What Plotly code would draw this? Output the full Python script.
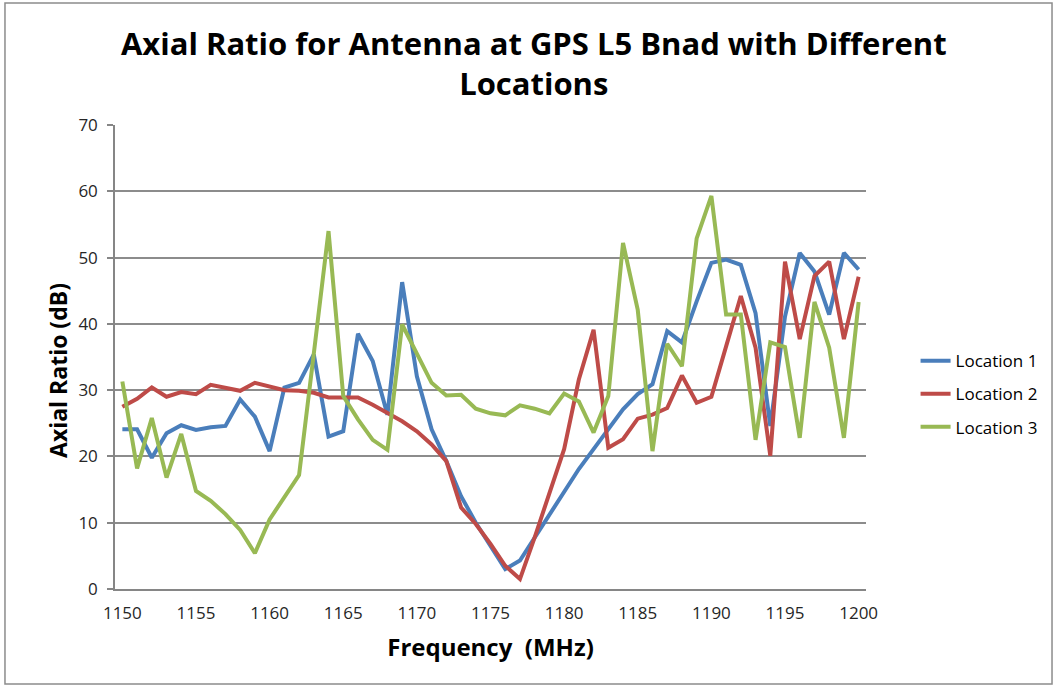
import plotly.graph_objects as go

freq = list(range(1150, 1201))

location1 = [24.1, 24.1, 19.8, 23.5, 24.7, 24.0, 24.4, 24.6, 28.6, 26.0,
             20.8, 30.4, 31.1, 35.4, 23.0, 23.8, 38.5, 34.4, 26.3, 46.3,
             32.1, 24.1, 19.3, 14.0, 10.0, 6.5, 3.0, 4.3, 7.8, 11.3,
             14.8, 18.1, 21.1, 24.1, 27.1, 29.4, 30.9, 38.9, 37.2, 43.4,
             49.2, 49.7, 48.9, 41.6, 24.6, 41.1, 50.7, 47.9, 41.4, 50.7,
             48.2]

location2 = [27.5, 28.7, 30.4, 29.0, 29.7, 29.4, 30.8, 30.4, 29.9, 31.1,
             30.6, 30.0, 29.9, 29.6, 28.9, 28.9, 28.9, 27.8, 26.6, 25.3,
             23.8, 21.8, 19.3, 12.3, 9.8, 6.8, 3.5, 1.5, 7.8, 14.3,
             21.1, 31.6, 39.1, 21.3, 22.6, 25.7, 26.3, 27.3, 32.2, 28.1,
             29.0, 36.6, 44.2, 36.4, 20.1, 49.4, 37.7, 47.2, 49.4, 37.7,
             47.1]

location3 = [31.3, 18.2, 25.8, 16.8, 23.4, 14.8, 13.3, 11.3, 8.9, 5.4,
             10.5, 13.8, 17.2, 35.5, 54.0, 29.1, 25.6, 22.5, 21.0, 39.9,
             35.6, 31.1, 29.2, 29.3, 27.2, 26.5, 26.2, 27.7, 27.2, 26.5,
             29.5, 28.3, 23.6, 29.1, 52.2, 42.1, 20.8, 37.0, 33.6, 52.9,
             59.3, 41.4, 41.4, 22.5, 37.2, 36.5, 22.8, 43.3, 36.4, 22.8,
             43.3]

series_names = ["Location 1", "Location 2", "Location 3"]
series_values = [location1, location2, location3]
series_colors = ["#4A7EBB", "#BE4B48", "#98B954"]

x_ticks = [1150, 1155, 1160, 1165, 1170, 1175, 1180, 1185, 1190, 1195, 1200]
y_ticks = [0, 10, 20, 30, 40, 50, 60, 70]

FONT = "'Open Sans', Lato, sans-serif"

fig = go.Figure()
for i, (name, vals, col) in enumerate(zip(series_names, series_values, series_colors)):
    fig.add_trace(go.Scatter(
        x=freq, y=vals, mode="lines", name=name,
        legendgroup=f"g{i}",
        line=dict(color=col, width=4),
    ))

fig.update_layout(
    width=1057, height=686,
    paper_bgcolor="white", plot_bgcolor="white",
    margin=dict(l=115, r=191, t=125, b=97),
    font=dict(family=FONT, size=17, color="#262626"),
    title=dict(
        text="<b>Axial Ratio for Antenna at GPS L5 Bnad with Different<br>Locations</b>",
        x=0.505, xanchor="center", y=0.92, yanchor="top",
        font=dict(family=FONT, size=31, color="black"),
    ),
    showlegend=True,
    legend=dict(
        x=1.066, xanchor="left", y=0.42, yanchor="middle",
        font=dict(family=FONT, size=17, color="black"),
        tracegroupgap=8,
        bgcolor="rgba(0,0,0,0)",
    ),
    xaxis=dict(
        range=[1149.5, 1200.5],
        tickvals=x_ticks, ticktext=[str(v) for v in x_ticks],
        showgrid=False, zeroline=False,
        showline=True, linecolor="#868686", linewidth=1.5,
        ticks="", ticklabelstandoff=8,
        tickfont=dict(size=17, color="#262626"),
        title=dict(text="<b>Frequency  (MHz)</b>", font=dict(size=24, color="black"), standoff=16),
    ),
    yaxis=dict(
        range=[0, 70],
        tickvals=y_ticks,
        showgrid=True, gridcolor="#8c8c8c", gridwidth=1.5,
        zeroline=False,
        showline=True, linecolor="#868686", linewidth=1.5,
        ticks="outside", ticklen=6, tickcolor="#868686", tickwidth=1.5,
        ticklabelstandoff=6,
        tickfont=dict(size=17, color="#262626"),
    ),
)

fig.add_annotation(
    text="<b>Axial Ratio (dB)</b>", textangle=-90,
    xref="paper", yref="paper", x=-0.0759, y=0.472,
    xanchor="center", yanchor="middle", showarrow=False,
    font=dict(family=FONT, size=23, color="black"),
)

fig.add_shape(type="rect", xref="paper", yref="paper",
              x0=-0.1465, x1=1.2477, y0=-0.2047, y1=1.263,
              line=dict(color="#8c8c8c", width=1.5), fillcolor="rgba(0,0,0,0)")

fig.write_html("out.html", config={"displayModeBar": False},
               post_script="document.body.style.margin='0px';")
